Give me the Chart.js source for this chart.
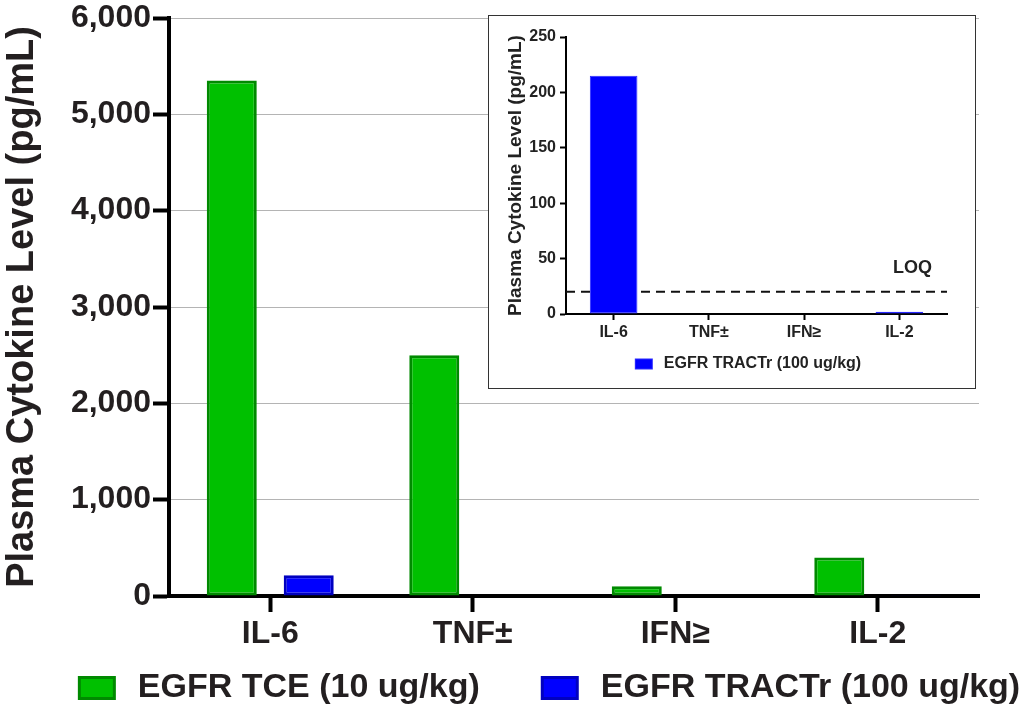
<!DOCTYPE html>
<html>
<head>
<meta charset="utf-8">
<script src="https://cdn.jsdelivr.net/npm/chart.js@4.4.1/dist/chart.umd.min.js"></script>
<style>
  html, body { margin: 0; padding: 0; background: #fff; }
  #wrap { position: relative; width: 1024px; height: 712px; }
  canvas { display: block; }
  #inset { position: absolute; left: 488px; top: 15px; width: 488px; height: 374px; border: 1px solid #333; box-sizing: border-box; background: #fff; }
</style>
</head>
<body>
<div id="wrap">
  <canvas id="mainChart" width="1024" height="712"></canvas>
  <div id="inset"><canvas id="insetChart" width="486" height="372"></canvas></div>
</div>
<script>
// values
var cytokines = ['IL-6', 'TNF±', 'IFN≥', 'IL-2'];
var tceLabel = 'EGFR TCE (10 ug/kg)';
var tractrLabel = 'EGFR TRACTr (100 ug/kg)';
var tceValues = [5350, 2500, 100, 400];
var tractrValues = [215, 0, 0, 2];
var yTitle = 'Plasma Cytokine Level (pg/mL)';
var mainYMax = 6000, mainYStep = 1000;
var insetYMax = 250, insetYStep = 50;
var loqValue = 20;
var loqLabel = 'LOQ';

var FONT = '"Liberation Sans", Arial, Helvetica, sans-serif';
var TEXT = '#231f20';
Chart.defaults.font.family = FONT;

// legend drawn as filled boxes with a border, laid out under the plot
var boxLegend = {
  id: 'boxLegend',
  afterDraw: function(chart, args, opts) {
    var ctx = chart.ctx;
    ctx.save();
    ctx.font = opts.font;
    ctx.textBaseline = 'middle';
    ctx.textAlign = 'left';
    var items = chart.data.datasets.map(function(ds) {
      return { text: ds.label, fill: ds.backgroundColor, stroke: ds.borderColor, w: ctx.measureText(ds.label).width };
    });
    var total = items.reduce(function(s, it) { return s + opts.boxWidth + opts.gap + it.w; }, 0) + opts.spacing * (items.length - 1);
    var x = opts.centerX - total / 2;
    var y = chart.chartArea.bottom + opts.offsetY;
    var bw = opts.boxWidth, bh = opts.boxHeight, b = opts.border;
    items.forEach(function(it) {
      ctx.fillStyle = it.stroke;
      ctx.fillRect(x, y - bh / 2, bw, bh);
      ctx.fillStyle = it.fill;
      ctx.fillRect(x + b, y - bh / 2 + b, bw - 2 * b, bh - 2 * b);
      ctx.fillStyle = opts.color;
      ctx.fillText(it.text, x + bw + opts.gap, y);
      x += bw + opts.gap + it.w + opts.spacing;
    });
    ctx.restore();
  }
};

// dashed limit-of-quantitation line for the inset
var loqLine = {
  id: 'loqLine',
  beforeDatasetsDraw: function(chart) {
    var ctx = chart.ctx;
    var area = chart.chartArea;
    var y = chart.scales.y.getPixelForValue(loqValue);
    ctx.save();
    ctx.strokeStyle = '#111';
    ctx.lineWidth = 2;
    ctx.setLineDash([9, 6]);
    ctx.beginPath();
    ctx.moveTo(area.left, y);
    ctx.lineTo(area.right, y);
    ctx.stroke();
    ctx.setLineDash([]);
    ctx.fillStyle = '#222';
    ctx.font = 'bold 18px ' + FONT;
    ctx.textAlign = 'right';
    ctx.textBaseline = 'middle';
    ctx.fillText(loqLabel, area.right - 15, y - 24);
    ctx.restore();
  }
};

new Chart(document.getElementById('mainChart'), {
  type: 'bar',
  data: {
    labels: cytokines,
    datasets: [{
      label: tceLabel,
      data: tceValues,
      backgroundColor: '#00c000',
      borderColor: '#008a00',
      borderWidth: 3,
      borderSkipped: false,
      categoryPercentage: 0.76,
      barPercentage: 0.65
    }, {
      label: tractrLabel,
      data: tractrValues,
      backgroundColor: '#0000ff',
      borderColor: '#0000c0',
      borderWidth: 3,
      borderSkipped: false,
      categoryPercentage: 0.76,
      barPercentage: 0.65
    }]
  },
  options: {
    responsive: false,
    animation: false,
    devicePixelRatio: 1,
    layout: { padding: { left: 0, right: 45, top: 18, bottom: 0 } },
    plugins: {
      legend: { display: false },
      tooltip: { enabled: false },
      boxLegend: {
        font: 'bold 34px ' + FONT, color: TEXT,
        boxWidth: 38, boxHeight: 24, border: 3, gap: 22, spacing: 61,
        centerX: 549, offsetY: 92
      }
    },
    scales: {
      x: {
        grid: { display: true, drawOnChartArea: false, offset: false, tickLength: 16, tickWidth: 4, tickColor: '#000' },
        border: { color: '#000', width: 4 },
        ticks: { font: { size: 32, weight: 'bold' }, color: TEXT, maxRotation: 0, autoSkip: false, padding: 3 },
        afterFit: function(s) { s.height = 116; }
      },
      y: {
        min: 0,
        max: mainYMax,
        ticks: { stepSize: mainYStep, font: { size: 32, weight: 'bold', lineHeight: 1 }, color: TEXT, padding: 2 },
        grid: { color: '#b4b4b4', lineWidth: 1, tickLength: 16, tickWidth: 4, tickColor: '#000' },
        border: { color: '#000', width: 4 },
        title: { display: true, text: yTitle, font: { size: 38, weight: 'bold' }, color: TEXT, padding: 0 },
        afterFit: function(s) { s.width = 169; }
      }
    }
  },
  plugins: [boxLegend]
});

new Chart(document.getElementById('insetChart'), {
  type: 'bar',
  data: {
    labels: cytokines,
    datasets: [{
      label: tractrLabel,
      data: tractrValues,
      backgroundColor: '#0000ff',
      borderColor: '#2a2aff',
      borderWidth: 1,
      borderSkipped: false,
      categoryPercentage: 1,
      barPercentage: 0.5
    }]
  },
  options: {
    responsive: false,
    animation: false,
    devicePixelRatio: 1,
    layout: { padding: { left: 15, right: 28, top: 21, bottom: 0 } },
    plugins: {
      legend: { display: false },
      tooltip: { enabled: false },
      boxLegend: {
        font: 'bold 16px ' + FONT, color: '#222',
        boxWidth: 18, boxHeight: 11, border: 1, gap: 11, spacing: 20,
        centerX: 259, offsetY: 50
      }
    },
    scales: {
      x: {
        grid: { display: true, drawOnChartArea: false, offset: false, tickLength: 6, tickWidth: 2, tickColor: '#000' },
        border: { color: '#000', width: 2 },
        ticks: { font: { size: 16, weight: 'bold' }, color: '#222', maxRotation: 0, autoSkip: false, padding: 3 },
        afterFit: function(s) { s.height = 74; }
      },
      y: {
        min: 0,
        max: insetYMax,
        ticks: { stepSize: insetYStep, font: { size: 16, weight: 'bold' }, color: '#222', padding: 4 },
        grid: { drawOnChartArea: false, tickLength: 6, tickWidth: 2, tickColor: '#000' },
        border: { color: '#000', width: 2 },
        title: { display: true, text: yTitle, font: { size: 19, weight: 'bold' }, color: '#222', padding: 0 },
        afterFit: function(s) { s.width = 62; }
      }
    }
  },
  plugins: [loqLine, boxLegend]
});
</script>
</body>
</html>
